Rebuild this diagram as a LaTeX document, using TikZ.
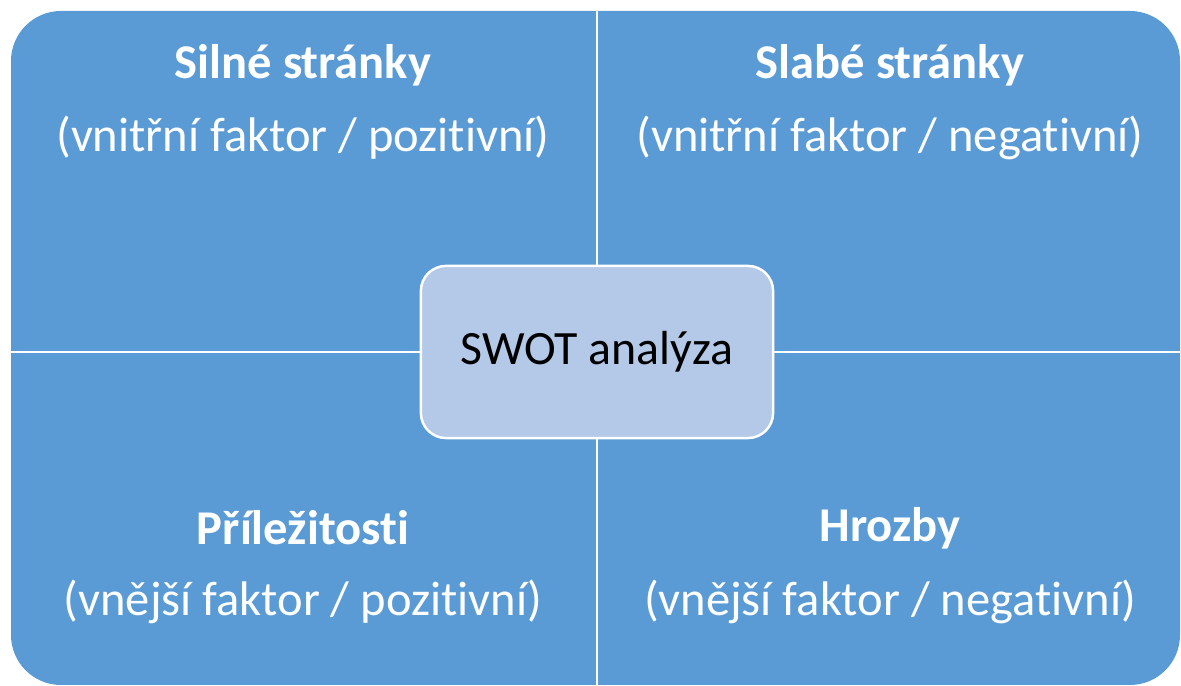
\documentclass[tikz,border=0pt]{standalone}
\usepackage{fontspec}
\setmainfont[Ligatures={NoCommon,NoRequired,NoContextual}]{Carlito}
\usepackage{xcolor}
\usepackage{tikz}
\usetikzlibrary{positioning, calc}

\definecolor{modra}{HTML}{5B9BD5}
\definecolor{svetla}{HTML}{B4C8E8}

\begin{document}
\begin{tikzpicture}[
    x=0.01cm, y=-0.01cm,
    nadpis/.style={text=white, font=\fontsize{13.8}{16}\selectfont\bfseries, inner sep=0pt},
    popis/.style={text=white, font=\fontsize{13.8}{16}\selectfont, inner sep=0pt},
    stred/.style={draw=white, line width=0.7pt, rounded corners=0.25cm, fill=svetla,
                  minimum width=3.52cm, minimum height=1.72cm, inner sep=0pt,
                  font=\fontsize{13.6}{16}\selectfont},
    cara/.style={white, line width=0.7pt}
  ]
    \useasboundingbox (0,0) rectangle (1181,686);
    \fill[modra, rounded corners=0.5cm] (11,11) rectangle (1180,685);
    % popisky ctvrtin
    \node[nadpis] (silne) at (303,65) {Silné stránky};
    \node[popis] (silnep) at (303,138) {(vnitřní faktor / pozitivní)};
    \node[nadpis] (slabe) at (890,65) {Slabé stránky};
    \node[popis] (slabep) at (890,138) {(vnitřní faktor / negativní)};
    \node[nadpis] (prilez) at (303,528) {Příležitosti};
    \node[popis] (prilezp) at (303,602) {(vnější faktor / pozitivní)};
    \node[nadpis] (hrozby) at (890,528) {Hrozby};
    \node[popis] (hrozbyp) at (890,602) {(vnější faktor / negativní)};
    % delici cary
    \coordinate (horni) at (597,11);
    \coordinate (dolni) at (597,685);
    \coordinate (leva) at (11,352);
    \coordinate (prava) at (1180,352);
    \draw[cara] (horni) -- (dolni);
    \draw[cara] (leva) -- (prava);
    \node[stred] (swot) at (597,352) {SWOT analýza};
\end{tikzpicture}
\end{document}
